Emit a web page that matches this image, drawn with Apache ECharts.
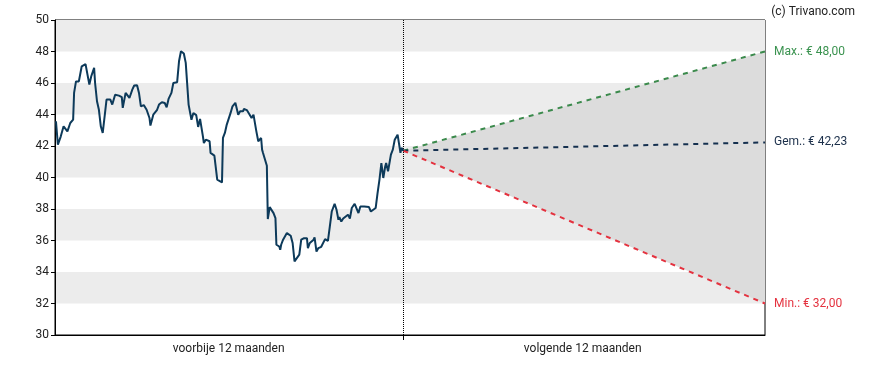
<!DOCTYPE html>
<html>
<head>
<meta charset="utf-8">
<script src="https://cdn.jsdelivr.net/npm/echarts@6/dist/echarts.min.js"></script>
<style>html,body{margin:0;padding:0;background:#fff}#c{width:888px;height:370px}</style>
</head>
<body>
<div id="c"></div>
<script>
// Past 12 months: day index and closing price (EUR)
var pastDays = [1,3,6,9,13,16,19,20,22,24,25,28,32,34,36,38,41,42,44,46,48,50,52,54,58,60,63,67,70,71,74,76,78,81,83,86,88,90,93,96,99,100,103,107,109,112,115,117,119,122,124,128,130,132,135,137,140,141,143,145,148,150,152,154,155,156,158,162,163,165,167,169,170,172,175,176,178,180,182,184,186,189,191,192,194,197,198,201,204,206,208,211,213,215,216,217,218,222,223,225,229,231,232,235,236,237,239,243,244,247,249,251,253,256,258,261,264,265,267,271,272,274,276,279,283,286,288,290,293,295,297,298,300,302,304,307,309,311,314,316,318,320,322,324,326,329,331,333,336,338,340,342,343,344,346,347,349,352,354,356,359,361,362,363,365];
var pastPrices = [43.57,42.09,42.6,43.25,42.93,43.46,43.67,45.37,46.1,46.2,46.1,47.06,47.2,47.1,45.9,46.43,46.96,46.0,44.84,44.3,43.25,42.83,43.88,44.95,44.95,44.63,45.26,45.2,45.1,44.42,45.37,45.4,45.05,45.58,45.84,45.86,45.37,44.52,44.6,44.3,43.78,43.3,43.99,44.3,44.63,44.78,44.73,44.46,44.99,45.37,46.0,46.05,47.4,48.02,47.87,47.28,44.63,44.7,43.67,44.1,43.96,43.21,43.72,43.7,42.61,42.19,42.4,42.3,41.56,41.56,41.39,41.39,39.86,39.88,39.69,42.51,42.83,43.36,43.4,44.1,44.52,44.74,44.74,43.99,44.2,44.2,44.35,44.28,43.99,43.78,43.99,42.93,42.3,42.4,42.51,41.77,41.56,40.75,37.36,38.12,37.74,37.42,35.73,35.62,35.41,35.73,36.05,36.47,36.5,36.3,35.84,34.67,34.7,35.1,36.05,36.15,36.15,35.52,35.84,36.05,36.2,35.3,35.52,35.6,36.09,35.98,36.89,37.84,38.33,37.95,37.32,37.49,37.2,37.4,37.3,37.64,37.4,38.06,38.33,38.42,37.74,38.16,38.06,38.16,38.27,38.12,37.84,37.84,38.06,39.01,39.86,40.92,40.92,39.97,40.7,40.92,40.39,41.45,41.77,42.4,42.72,42.72,41.56,41.88,41.7];

// Forecast (next 12 months)
var dividerDay = 365;
var forecastStartDay = 365;
var forecastEndDay = 744;
var startPrice = 41.7;
var maxTarget = 48.00;
var avgTarget = 42.23;
var minTarget = 32.00;

// Axis labels
var xLabelDays = [182, 553];
var xLabelTexts = ['voorbije 12 maanden', 'volgende 12 maanden'];
var yMin = 30, yMax = 50, yStep = 2;

function fmt(v){ return v.toFixed(2).replace('.', ','); }

var pastData = pastDays.map(function(d, i){ return [d, pastPrices[i]]; });

var chart = echarts.init(document.getElementById('c'), null, {renderer: 'canvas'});
var FONT = 'Roboto';
chart.setOption({
  animation: false,
  textStyle: {fontFamily: FONT},
  title: {
    text: '(c) Trivano.com', right: 28, top: 1,
    textStyle: {fontSize: 12, fontWeight: 'normal', color: '#222', fontFamily: FONT}
  },
  grid: {left: 55, right: 123, top: 20, bottom: 35, show: true, borderColor: '#000', borderWidth: 1, backgroundColor: 'transparent'},
  xAxis: {
    type: 'value', min: 0, max: forecastEndDay,
    axisLine: {show: true, lineStyle: {color: '#000', width: 1}},
    splitLine: {show: false},
    axisTick: {show: true, customValues: [dividerDay], length: 5, lineStyle: {color: '#000'}},
    axisLabel: {
      show: true, customValues: xLabelDays, margin: 8, fontSize: 12, color: '#222', fontFamily: FONT,
      formatter: function(v){ var i = xLabelDays.indexOf(v); return i >= 0 ? xLabelTexts[i] : ''; }
    }
  },
  yAxis: {
    type: 'value', min: yMin, max: yMax, interval: yStep,
    axisLine: {show: true, lineStyle: {color: '#000', width: 1}},
    axisTick: {show: true, length: 4, lineStyle: {color: '#000'}},
    axisLabel: {fontSize: 12, color: '#222', margin: 6, fontFamily: FONT},
    splitLine: {show: false},
    splitArea: {show: true, areaStyle: {color: ['rgba(255,255,255,0)', '#ececec']}}
  },
  series: [
    {
      type: 'custom',
      silent: true,
      z: 1,
      data: [[forecastStartDay, startPrice, forecastEndDay, maxTarget, forecastEndDay, minTarget]],
      encode: {x: [0, 2, 4], y: [1, 3, 5]},
      renderItem: function(params, api){
        var p0 = api.coord([api.value(0), api.value(1)]);
        var p1 = api.coord([api.value(2), api.value(3)]);
        var p2 = api.coord([api.value(4), api.value(5)]);
        return {type: 'polygon', shape: {points: [p0, p1, p2]}, style: {fill: '#dcdcdc', stroke: null}};
      }
    },
    {
      type: 'line', data: pastData, symbol: 'none', z: 5,
      lineStyle: {color: '#0d3a5a', width: 2},
      markLine: {
        silent: true, symbol: 'none', label: {show: false},
        lineStyle: {type: 'dotted', color: '#000', width: 1},
        data: [{xAxis: dividerDay}]
      }
    },
    {
      type: 'line', data: [[forecastStartDay, startPrice], [forecastEndDay, maxTarget]], symbol: 'none', z: 4,
      lineStyle: {color: '#3b8a4c', width: 2, type: [5, 5]},
      endLabel: {show: true, distance: 9, fontSize: 12, color: '#3b9350', fontFamily: FONT, formatter: function(){ return 'Max.: € ' + fmt(maxTarget); }}
    },
    {
      type: 'line', data: [[forecastStartDay, startPrice], [forecastEndDay, avgTarget]], symbol: 'none', z: 4,
      lineStyle: {color: '#15304f', width: 2, type: [5, 5]},
      endLabel: {show: true, distance: 9, fontSize: 12, color: '#1b2f4a', fontFamily: FONT, formatter: function(){ return 'Gem.: € ' + fmt(avgTarget); }}
    },
    {
      type: 'line', data: [[forecastStartDay, startPrice], [forecastEndDay, minTarget]], symbol: 'none', z: 4,
      lineStyle: {color: '#e4323f', width: 2, type: [5, 5]},
      endLabel: {show: true, distance: 9, fontSize: 12, color: '#e4323f', fontFamily: FONT, formatter: function(){ return 'Min.: € ' + fmt(minTarget); }}
    }
  ]
});
</script>
</body>
</html>
